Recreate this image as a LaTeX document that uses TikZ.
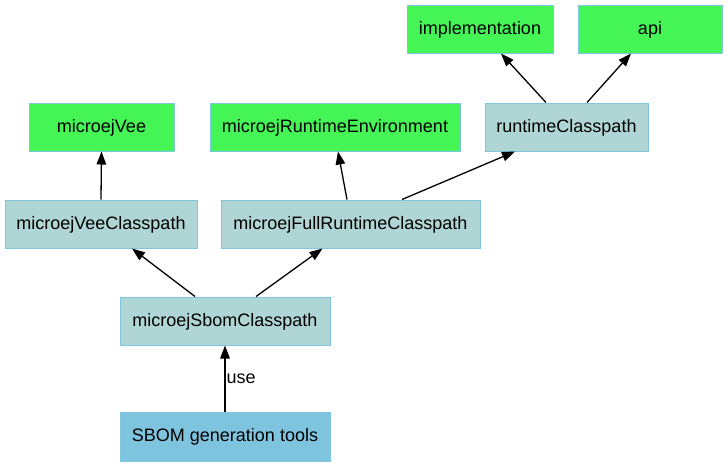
\documentclass[tikz,border=0pt]{standalone}
\usepackage{fontspec}
\setmainfont{Liberation Sans}
\usetikzlibrary{arrows.meta}
\definecolor{gvgreen}{RGB}{68,245,85}
\definecolor{gvgray}{RGB}{176,213,213}
\definecolor{gvsky}{RGB}{126,196,222}
\definecolor{gvborder}{RGB}{128,198,224}
\tikzset{
  box/.style={draw=gvborder, line width=1pt, minimum height=48pt, inner sep=0pt,
    text height=13pt, text depth=3pt, font=\fontsize{18}{20}\selectfont},
  greenbox/.style={box, fill=gvgreen},
  graybox/.style={box, fill=gvgray},
  skybox/.style={box, fill=gvsky},
  edge/.style={draw=black, line width=1.3pt, -{Triangle[length=13pt,width=9.5pt]}},
}
\begin{document}
\begin{tikzpicture}[x=1pt,y=-1pt]
\useasboundingbox (0,0) rectangle (728,467);
\node[greenbox, minimum width=146pt] (impl) at (480,29) {implementation};
\node[greenbox, minimum width=144pt] (api) at (650,29) {api};
\node[greenbox, minimum width=145pt] (vee) at (101.5,127) {microejVee};
\node[greenbox, minimum width=250pt] (rte) at (335,127) {microejRuntimeEnvironment};
\node[graybox, minimum width=163pt] (rcp) at (566.5,127) {runtimeClasspath};
\node[graybox, minimum width=192pt] (veecp) at (101,224) {microejVeeClasspath};
\node[graybox, minimum width=259pt] (full) at (350.5,224) {microejFullRuntimeClasspath};
\node[graybox, minimum width=210pt] (sbom) at (225,321) {microejSbomClasspath};
\node[skybox, minimum width=210pt, minimum height=49pt] (tools) at (225,436.5) {SBOM generation tools};

\draw[edge] ([xshift=-30pt]sbom.north) -- ([xshift=31pt]veecp.south);
\draw[edge] ([xshift=31pt]sbom.north) -- ([xshift=-28pt]full.south);
\draw[edge] (veecp.north) -- (vee.south);
\draw[edge] ([xshift=-3.5pt]full.north) -- ([xshift=3pt]rte.south);
\draw[edge] ([xshift=51.5pt]full.north) -- ([xshift=-51.5pt]rcp.south);
\draw[edge] ([xshift=-20.5pt]rcp.north) -- ([xshift=21pt]impl.south);
\draw[edge] ([xshift=20.5pt]rcp.north) -- ([xshift=-19pt]api.south);
\draw[edge] (tools.north) -- (sbom.south) node[midway, anchor=west, inner sep=1pt, font=\fontsize{18}{20}\selectfont] (uselabel) {use};
\end{tikzpicture}
\end{document}
